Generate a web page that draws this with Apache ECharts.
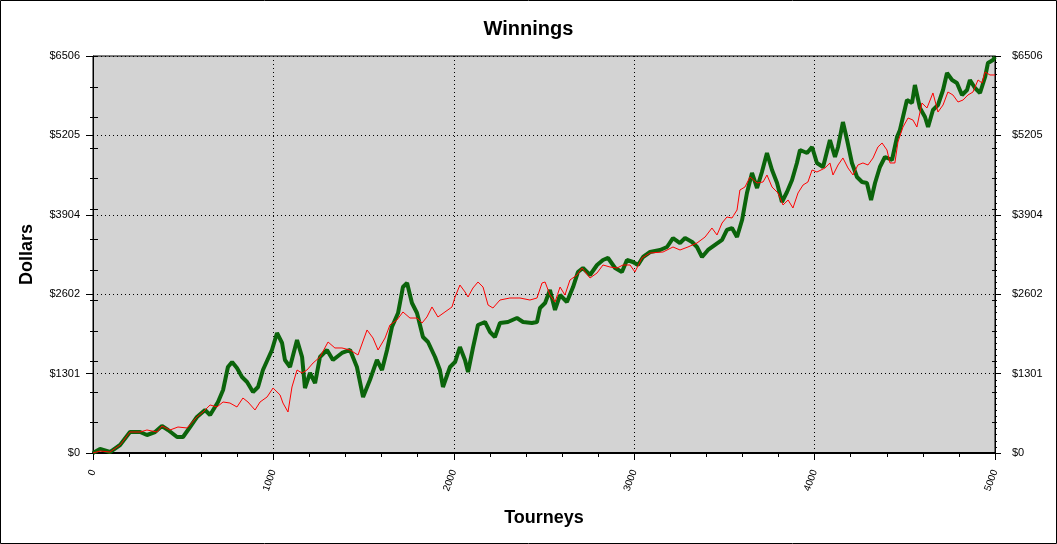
<!DOCTYPE html>
<html><head><meta charset="utf-8">
<script src="https://cdn.jsdelivr.net/npm/echarts/dist/echarts.min.js"></script>
<style>html,body{margin:0;padding:0;background:#fff}#c{width:1057px;height:544px}</style>
</head><body><div id="c"></div>
<script>
const greenT = [0,39,94,150,205,261,299,344,382,416,466,499,538,576,621,649,693,721,748,771,798,826,854,887,915,942,992,1020,1048,1064,1092,1131,1159,1175,1203,1231,1258,1297,1330,1380,1425,1463,1497,1535,1574,1602,1630,1657,1691,1718,1741,1768,1796,1829,1857,1896,1923,1940,1979,2007,2034,2062,2079,2106,2134,2173,2201,2228,2256,2300,2350,2384,2433,2461,2478,2506,2533,2561,2589,2627,2661,2688,2716,2755,2794,2827,2855,2894,2932,2960,2993,3021,3049,3088,3143,3182,3215,3254,3282,3321,3348,3376,3409,3448,3487,3514,3542,3570,3598,3625,3653,3681,3708,3736,3764,3792,3819,3847,3875,3902,3919,3958,3986,4013,4047,4085,4113,4130,4157,4180,4207,4235,4263,4290,4313,4335,4362,4390,4429,4457,4473,4512,4540,4556,4584,4612,4629,4656,4684,4712,4734,4762,4789,4817,4845,4861,4889,4917,4945,4961,4989,5000];
const greenV = [0,66,16,131,344,344,295,344,442,377,262,262,426,590,705,623,836,1032,1409,1491,1393,1246,1164,1000,1082,1360,1688,1967,1803,1524,1409,1852,1573,1065,1311,1147,1573,1688,1524,1639,1688,1409,918,1196,1524,1360,1688,2065,2294,2720,2786,2458,2294,1901,1819,1573,1360,1082,1409,1491,1737,1524,1327,1721,2098,2147,1983,1901,2130,2147,2212,2147,2130,2147,2376,2458,2671,2344,2589,2475,2720,2966,3032,2917,3081,3163,3196,3032,2966,3163,3130,3081,3212,3294,3327,3376,3523,3441,3523,3458,3376,3212,3327,3409,3491,3655,3687,3540,3818,4261,4589,4343,4605,4916,4638,4425,4113,4277,4474,4753,4966,4916,5015,4753,4687,5130,4851,5015,5424,5130,4753,4523,4441,4425,4146,4425,4687,4851,4802,5179,5293,5785,5736,6031,5654,5506,5342,5621,5703,5949,6227,6113,6064,5867,5949,6113,5982,5900,6162,6391,6441,6490];
const redT = [0,39,94,150,205,261,299,355,382,427,471,521,576,610,649,687,721,759,798,831,859,898,926,965,998,1037,1053,1081,1103,1131,1159,1186,1220,1258,1303,1341,1380,1425,1469,1519,1552,1580,1619,1646,1685,1718,1757,1796,1824,1851,1879,1912,1951,1990,2007,2034,2062,2079,2106,2134,2162,2190,2217,2256,2311,2367,2422,2461,2489,2506,2533,2561,2589,2616,2644,2683,2711,2755,2794,2827,2866,2905,2938,2977,3004,3043,3088,3160,3215,3254,3298,3348,3393,3431,3459,3487,3514,3542,3570,3586,3614,3642,3681,3714,3736,3764,3797,3825,3853,3880,3908,3936,3963,3986,4013,4058,4085,4102,4130,4157,4185,4213,4240,4268,4296,4324,4351,4374,4401,4418,4445,4462,4490,4518,4545,4567,4595,4623,4656,4684,4712,4739,4767,4795,4823,4850,4878,4906,4928,4945,4972,5000];
const redV = [0,33,16,131,344,344,377,344,442,377,426,410,590,672,787,754,836,819,754,901,836,705,836,918,1065,951,819,672,1082,1360,1311,1360,1475,1573,1819,1721,1721,1688,1606,2016,1885,1688,1885,2098,2180,2311,2212,2212,2130,2229,2393,2229,2311,2393,2557,2753,2639,2557,2704,2802,2720,2425,2376,2507,2540,2540,2507,2540,2786,2802,2589,2475,2720,2589,2835,2917,3032,2868,2950,3081,3048,3032,3081,3081,2966,3196,3278,3294,3376,3327,3376,3441,3540,3687,3573,3769,3868,3851,3982,4310,4359,4523,4425,4441,4556,4359,4261,4064,4146,4015,4261,4392,4441,4638,4605,4671,4753,4556,4720,4835,4671,4556,4720,4753,4720,4835,5015,5080,4966,4753,4753,5097,5342,5490,5457,5342,5736,5654,5900,5588,5703,5916,5867,5752,5785,5867,5916,6113,6064,6244,6195,6195];
const yMax = 6506;
const yStep = 1301.2;
const xMax = 5000;
const xStep = 1000;
const xMinorStep = 200;
const yMinorStep = 500;
const yTinyStep = 100;

const FONT = "'Liberation Sans', Arial, sans-serif";
const zip = (a, b) => a.map((t, i) => [t, b[i]]);
const dotted = { show: true, lineStyle: { color: '#000', width: 1, type: [1, 3] } };
const none = { show: false };

function yAx(pos, interval, tick, extra) {
  return Object.assign({
    type: 'value', position: pos, min: 0, max: yMax, interval: interval,
    axisLine: none, axisTick: Object.assign({ show: true, lineStyle: { color: '#000' } }, tick),
    axisLabel: none, splitLine: none
  }, extra || {});
}
function xAx(pos, interval, tick, extra) {
  return Object.assign({
    type: 'value', position: pos, min: 0, max: xMax, interval: interval,
    axisLine: none, axisTick: Object.assign({ show: true, lineStyle: { color: '#000' } }, tick),
    axisLabel: none, splitLine: none
  }, extra || {});
}

const chart = echarts.init(document.getElementById('c'));
chart.setOption({
  animation: false,
  backgroundColor: '#fff',
  title: {
    text: 'Winnings', left: 'center', top: 14,
    textStyle: { fontFamily: FONT, fontSize: 20, fontWeight: 'bold', color: '#000' }
  },
  grid: {
    left: 93, right: 62, top: 56, bottom: 91,
    show: true, backgroundColor: '#d3d3d3', borderColor: '#000', borderWidth: 1
  },
  xAxis: [
    xAx('bottom', xStep, { length: 7 }, {
      axisLine: { show: true, onZero: false, lineStyle: { color: '#000', width: 2 } },
      axisLabel: { show: true, rotate: 70, fontSize: 10, margin: 17, color: '#000', fontFamily: FONT,
        formatter: v => String(Math.round(v)) },
      splitLine: dotted,
      name: 'Tourneys', nameLocation: 'middle', nameGap: 56,
      nameTextStyle: { fontFamily: FONT, fontSize: 18, fontWeight: 'bold', color: '#000' }
    }),
    xAx('bottom', xMinorStep, { length: 4 }),
    xAx('top', xMinorStep, { inside: true, length: 4 }),
    xAx('top', xStep, { inside: true, length: 7 })
  ],
  yAxis: [
    yAx('left', yStep, { length: 7 }, {
      axisLine: { show: true, onZero: false, lineStyle: { color: '#000' } },
      axisLabel: { show: true, margin: 13, fontSize: 11, color: '#000', fontFamily: FONT,
        formatter: v => '$' + Math.round(v) },
      splitLine: dotted,
      name: 'Dollars', nameLocation: 'middle', nameGap: 57,
      nameTextStyle: { fontFamily: FONT, fontSize: 18, fontWeight: 'bold', color: '#000' }
    }),
    yAx('left', yMinorStep, { inside: true, length: 5 }),
    yAx('left', yMinorStep, { length: 3 }),
    yAx('right', yStep, { length: 6 }, {
      axisLine: { show: true, onZero: false, lineStyle: { color: '#000' } },
      axisLabel: { show: true, margin: 17, fontSize: 11, color: '#000', fontFamily: FONT,
        formatter: v => '$' + Math.round(v) }
    }),
    yAx('right', yStep, { inside: true, length: 6 }),
    yAx('right', yMinorStep, { length: 4 }),
    yAx('right', yMinorStep, { inside: true, length: 3 }),
    yAx('right', yTinyStep, { length: 2 })
  ],
  series: [
    {
      type: 'line', name: 'Green', xAxisIndex: 0, yAxisIndex: 0,
      data: zip(greenT, greenV), showSymbol: false, symbol: 'none',
      lineStyle: { color: '#0b640b', width: 4 }, z: 2
    },
    {
      type: 'line', name: 'Red', xAxisIndex: 0, yAxisIndex: 0,
      data: zip(redT, redV), showSymbol: false, symbol: 'none',
      lineStyle: { color: '#ff0000', width: 1 }, z: 3
    }
  ],
  graphic: [{
    type: 'rect', z: 100, silent: true,
    shape: { x: 0.5, y: 0.5, width: 1056, height: 543 },
    style: { fill: 'none', stroke: '#000', lineWidth: 1 }
  }]
});
</script></body></html>
